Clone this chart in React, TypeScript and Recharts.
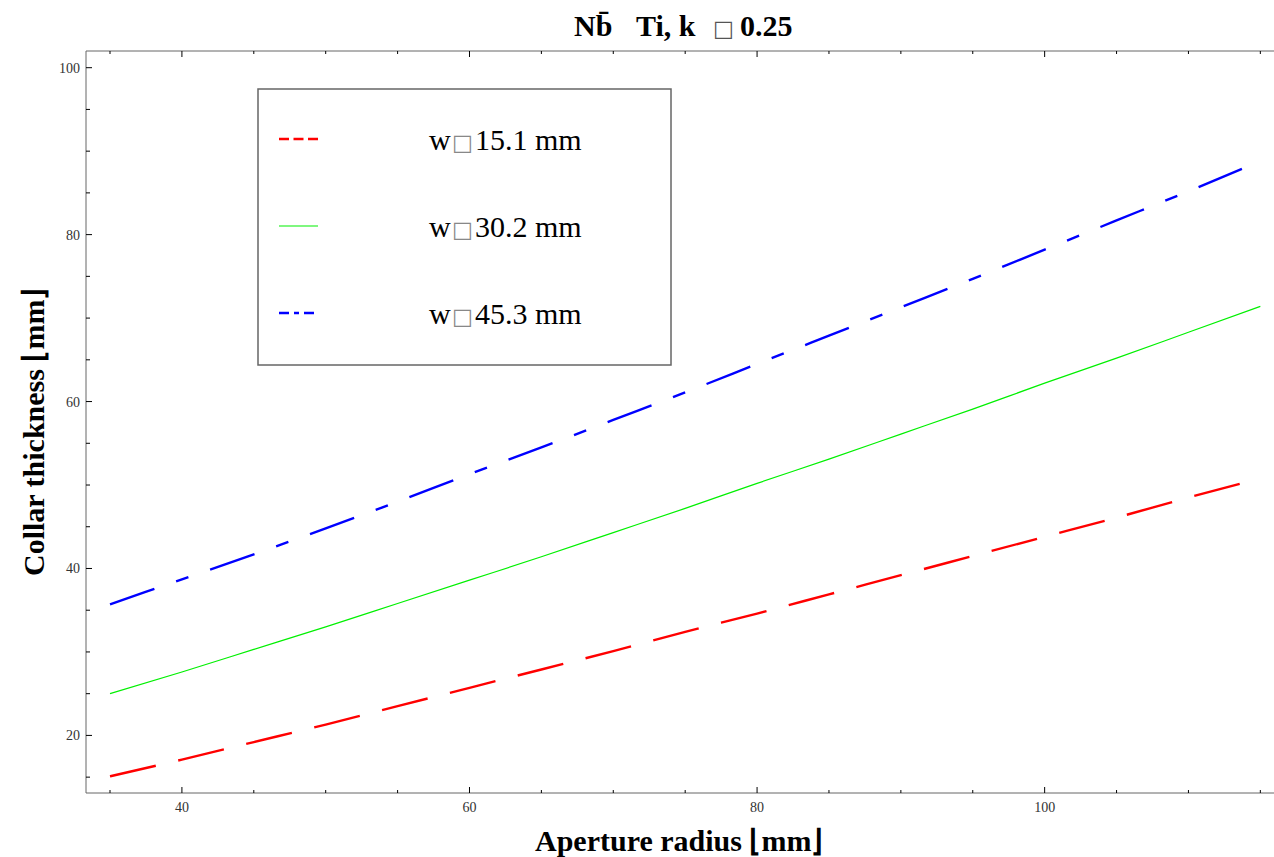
import React from 'react';
import { LineChart, Line, XAxis, YAxis, Legend } from 'recharts';

// aperture radius [mm]
const radius = [35, 40, 45, 50, 55, 60, 65, 70, 75, 80, 85, 90, 95, 100, 105, 110, 115];

// collar thickness [mm] per coil width
const w151 = [15.1, 17.1, 19.2, 21.3, 23.5, 25.7, 27.9, 30.1, 32.4, 34.6, 36.9, 39.2, 41.5, 43.8, 46.1, 48.5, 50.8];
const w302 = [25.0, 27.6, 30.3, 33.0, 35.8, 38.6, 41.4, 44.3, 47.2, 50.2, 53.1, 56.1, 59.1, 62.2, 65.2, 68.3, 71.4];
const w453 = [35.7, 38.7, 41.7, 44.8, 48.0, 51.3, 54.5, 57.8, 61.1, 64.5, 67.9, 71.3, 74.7, 78.2, 81.7, 85.2, 88.8];

const xTicks = [35, 40, 45, 50, 55, 60, 65, 70, 75, 80, 85, 90, 95, 100, 105, 110, 115];
const xMajor = [40, 60, 80, 100];
const yTicks = [15, 20, 25, 30, 35, 40, 45, 50, 55, 60, 65, 70, 75, 80, 85, 90, 95, 100];
const yMajor = [20, 40, 60, 80, 100];

const SERIES = [
  { key: 'w151', label: '15.1 mm', color: '#ff0000', width: 2.4, dash: '47 23', legendDash: '10 4.5' },
  { key: 'w302', label: '30.2 mm', color: '#00f000', width: 1.2, dash: undefined, legendDash: undefined },
  { key: 'w453', label: '45.3 mm', color: '#0000ff', width: 2.4, dash: '47 23 13 23', legendDash: '10 5 5 5' },
];

const data = radius.map((r, i) => ({ r, w151: w151[i], w302: w302[i], w453: w453[i] }));

const SERIF = "'Liberation Serif', 'Times New Roman', serif";
const AXIS = '#666';

// Mathematica-style frame ticks: pointing into the plot, labels only on majors
function BottomTick({ x, y, payload }: any) {
  const major = xMajor.includes(payload.value);
  return (
    <g>
      <line x1={x} y1={y} x2={x} y2={y - (major ? 6 : 3)} stroke="#000" />
      {major && (
        <text x={x} y={y + 19} textAnchor="middle" fontSize={14} fontFamily={SERIF} fill="#333">
          {payload.value}
        </text>
      )}
    </g>
  );
}

function TopTick({ x, y, payload }: any) {
  const major = xMajor.includes(payload.value);
  return <line x1={x} y1={y} x2={x} y2={y + (major ? 6 : 3)} stroke="#000" />;
}

function LeftTick({ x, y, payload }: any) {
  const major = yMajor.includes(payload.value);
  return (
    <g>
      <line x1={x} y1={y} x2={x + (major ? 6 : 4)} y2={y} stroke="#000" />
      {major && (
        <text x={x - 6} y={y + 5} textAnchor="end" fontSize={14} fontFamily={SERIF} fill="#333">
          {payload.value}
        </text>
      )}
    </g>
  );
}

function LegendBox() {
  return (
    <svg width={416} height={279} style={{ display: 'block' }}>
      <rect x={1} y={1} width={413} height={276} fill="#fff" stroke={AXIS} strokeWidth={1.5} />
      {SERIES.map((s, i) => {
        const cy = 51 + i * 87;
        return (
          <g key={s.key}>
            <line x1={22} y1={cy} x2={61} y2={cy} stroke={s.color} strokeWidth={s.width} strokeDasharray={s.legendDash} />
            <text y={cy + 11} fontSize={30} fontFamily={SERIF} fill="#000">
              <tspan x={172}>w</tspan>
              <tspan x={195} fontSize={22} fontFamily="'DejaVu Sans'" fill="#888">□</tspan>
              <tspan x={218}>{s.label}</tspan>
            </text>
          </g>
        );
      })}
    </svg>
  );
}

export default function App() {
  return (
    <div style={{ position: 'absolute', left: 0, top: 0, background: '#fff' }}>
      <LineChart width={1274} height={857} data={data} margin={{ top: 50, right: 0, bottom: 0, left: 0 }}>
        <XAxis
          dataKey="r"
          type="number"
          domain={[33.33, 115.95]}
          allowDataOverflow
          ticks={xTicks}
          interval={0}
          height={64}
          tickSize={0}
          tickMargin={0}
          tickLine={false}
          axisLine={{ stroke: AXIS }}
          tick={<BottomTick />}
        />
        <XAxis
          xAxisId="top"
          orientation="top"
          dataKey="r"
          type="number"
          domain={[33.33, 115.95]}
          allowDataOverflow
          ticks={xTicks}
          interval={0}
          height={1}
          tickSize={0}
          tickMargin={0}
          tickLine={false}
          axisLine={{ stroke: AXIS }}
          tick={<TopTick />}
        />
        <YAxis
          type="number"
          domain={[13.1, 102]}
          allowDataOverflow
          ticks={yTicks}
          interval={0}
          width={86}
          tickSize={0}
          tickMargin={0}
          tickLine={false}
          axisLine={{ stroke: AXIS }}
          tick={<LeftTick />}
        />
        <Legend
          layout="horizontal"
          verticalAlign="middle"
          align="center"
          wrapperStyle={{ position: 'absolute', left: 257, top: 88, width: 416, height: 279, margin: 0 }}
          content={() => <LegendBox />}
        />
        {SERIES.map(s => (
          <Line
            key={s.key}
            type="monotone"
            dataKey={s.key}
            stroke={s.color}
            strokeWidth={s.width}
            strokeDasharray={s.dash}
            dot={false}
            activeDot={false}
            isAnimationActive={false}
          />
        ))}
        <text y={36} fontSize={30} fontWeight="bold" fontFamily={SERIF} fill="#000">
          <tspan x={574}>Nb&#x0304;</tspan>
          <tspan x={636}>Ti, k</tspan>
          <tspan x={713} fontWeight="normal" fontSize={22} fontFamily="'DejaVu Sans'" fill="#555">□</tspan>
          <tspan x={740}>0.25</tspan>
        </text>
        <text x={535} y={851} fontSize={30} fontWeight="bold" fontFamily={SERIF} fill="#000">
          Aperture radius ⌊mm⌋
        </text>
        <text
          transform="rotate(-90)"
          x={-576}
          y={44}
          fontSize={30}
          fontWeight="bold"
          fontFamily={SERIF}
          fill="#000"
        >
          Collar thickness ⌊mm⌋
        </text>
      </LineChart>
    </div>
  );
}
